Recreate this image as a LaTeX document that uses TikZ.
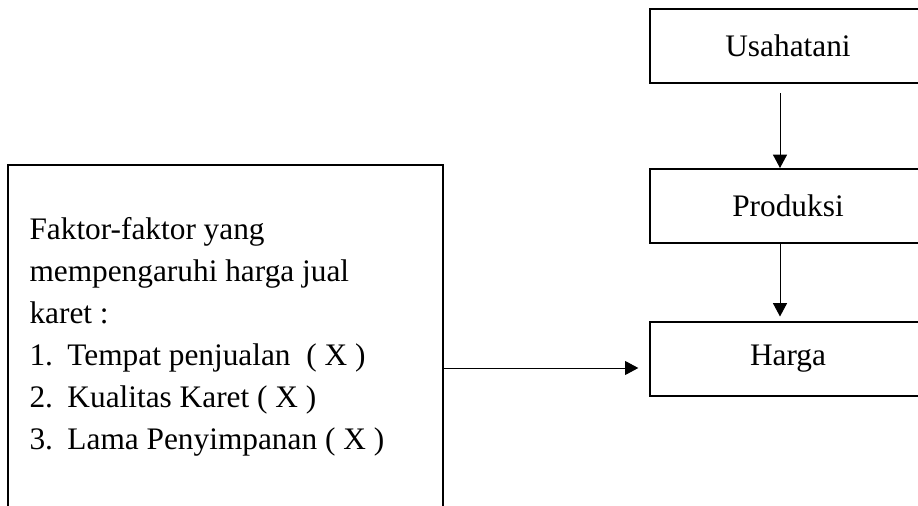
\documentclass[tikz,border=0pt]{standalone}
\usepackage{fontspec}
\setmainfont{Liberation Serif}
\usetikzlibrary{arrows.meta}
\tikzset{every picture/.style={line width=0.75pt}}

\begin{document}
\begin{tikzpicture}[x=0.75pt,y=0.75pt,yscale=-1,xscale=1,
  kotak/.style={draw, line width=1.5pt, minimum width=207pt, minimum height=55.5pt, inner sep=0pt, font=\fontsize{23.5}{31.5}\selectfont},
  panah/.style={-{Triangle[length=10pt,width=10.5pt]}}]
\useasboundingbox (0,0) rectangle (918,506);

%Boxes on the right
\node[kotak] (usaha) at (788,46) {Usahatani};
\node[kotak] (produksi) at (788,206) {Produksi};
\node[kotak] (harga) at (788,358.5) {Harga};

%Factor box (runs past the bottom edge)
\node[draw, line width=1.3pt, minimum width=326.25pt, minimum height=304.5pt, inner sep=0pt] (faktor) at (225.5,368) {};
% Text Node
\node[anchor=north west, inner sep=0pt, align=left, font=\fontsize{23.5}{31.5}\selectfont] (faktorteks) at (29,217)
  {Faktor-faktor yang\\
   mempengaruhi harga jual\\
   karet :\\
   \makebox[28.5pt][l]{1.}Tempat penjualan \ ( X )\\
   \makebox[28.5pt][l]{2.}Kualitas Karet ( X )\\
   \makebox[28.5pt][l]{3.}Lama Penyimpanan ( X )};

%Arrows
\draw[panah] ([xshift=-6pt,yshift=7pt]usaha.south) -- ([xshift=-6pt]produksi.north);
\draw[panah] ([xshift=-6pt]produksi.south) -- ([xshift=-6pt,yshift=-3pt]harga.north);
\draw[panah, shorten >=8pt] (faktor.east) -- (faktor.east -| harga.west);

\end{tikzpicture}
\end{document}
